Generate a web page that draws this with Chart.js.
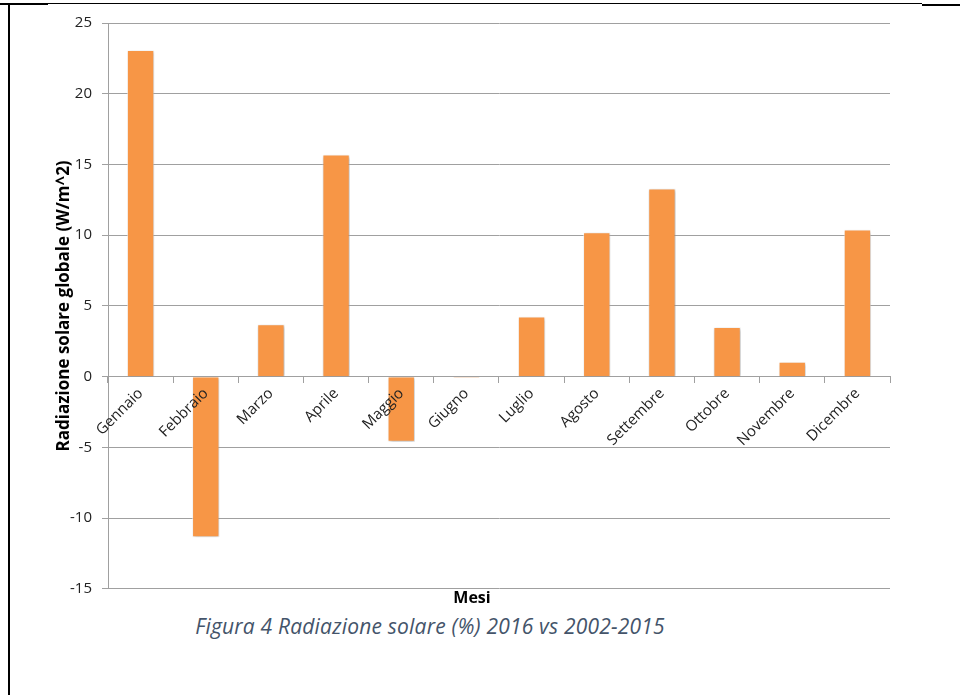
<!DOCTYPE html>
<html>
<head>
<meta charset="utf-8">
<script src="https://cdn.jsdelivr.net/npm/chart.js@4"></script>
<style>
  html, body { margin: 0; padding: 0; background: #fff; }
  #page { position: relative; width: 960px; height: 695px; overflow: hidden; }
  #chartbox { position: absolute; left: 0; top: 0; width: 960px; height: 610px; }
  .rule { position: absolute; background: #000; }
  #caption {
    position: absolute; left: 0; width: 860px; top: 612px; text-align: center;
    font-family: "Open Sans", sans-serif; font-style: italic; font-size: 21px;
    letter-spacing: 0.2px; color: #44546a;
  }
</style>
</head>
<body>
<div id="page">
  <div class="rule" style="left:0;top:3px;width:48px;height:2px"></div>
  <div class="rule" style="left:8px;top:3px;width:914px;height:1px"></div>
  <div class="rule" style="left:922px;top:4px;width:38px;height:2px"></div>
  <div class="rule" style="left:8px;top:3px;width:2px;height:692px"></div>
  <div id="chartbox"><canvas id="myChart"></canvas></div>
  <div id="caption">Figura 4 Radiazione solare (%) 2016 vs 2002-2015</div>
</div>
<script>
// months and 2016 anomaly vs 2002-2015
const mesi = ['Gennaio', 'Febbraio', 'Marzo', 'Aprile', 'Maggio', 'Giugno',
              'Luglio', 'Agosto', 'Settembre', 'Ottobre', 'Novembre', 'Dicembre'];
const radiazione = [23.1, -11.35, 3.7, 15.7, -4.6, -0.1, 4.25, 10.2, 13.3, 3.5, 1.05, 10.4];
const yTicks = [-15, -10, -5, 0, 5, 10, 15, 20, 25];

Chart.defaults.font.family = "'Open Sans', sans-serif";
Chart.defaults.color = '#222';

// soft drop shadow under the bars
const barShadow = {
    id: 'barShadow',
    beforeDatasetsDraw(chart) {
        const c = chart.ctx;
        c.save();
        c.shadowColor = 'rgba(0,0,0,0.3)';
        c.shadowBlur = 3;
        c.shadowOffsetX = 1;
        c.shadowOffsetY = 1;
    },
    afterDatasetsDraw(chart) {
        chart.ctx.restore();
    }
};

const ctx = document.getElementById('myChart');
new Chart(ctx, {
    type: 'bar',
    data: {
        labels: mesi,
        datasets: [{
            data: radiazione,
            backgroundColor: '#f79646',
            borderColor: 'rgba(255,255,255,0.6)',
            borderWidth: 1,
            barPercentage: 0.42,
            categoryPercentage: 1.0
        }]
    },
    options: {
        responsive: true,
        maintainAspectRatio: false,
        animation: false,
        layout: { padding: { left: 54, right: 70, top: 23, bottom: 2 } },
        plugins: {
            legend: { display: false },
            tooltip: { enabled: false },
            title: {
                display: true,
                position: 'bottom',
                text: 'Mesi',
                color: '#000',
                font: { size: 16, weight: 'bold' },
                padding: { top: 0, bottom: 0 }
            }
        },
        scales: {
            x: {
                position: { y: 0 },
                grid: {
                    offset: true,
                    drawOnChartArea: false,
                    drawTicks: true,
                    tickLength: 6,
                    color: '#a0a0a0'
                },
                border: { color: '#a0a0a0', width: 1 },
                ticks: {
                    z: 1,   // month names sit on top of the bars
                    maxRotation: 45,
                    minRotation: 45,
                    padding: 2,
                    font: { size: 15 },
                    color: '#222'
                }
            },
            y: {
                min: -15,
                max: 25,
                afterBuildTicks(scale) {
                    scale.ticks = yTicks.map(v => ({ value: v }));
                },
                afterFit(scale) {
                    scale.width = 54;
                },
                grid: {
                    color: '#a0a0a0',
                    tickLength: 6
                },
                border: { color: '#a0a0a0', width: 1 },
                ticks: {
                    padding: 10,
                    font: { size: 15 },
                    color: '#222'
                },
                title: {
                    display: true,
                    text: 'Radiazione solare globale (W/m^2)',
                    color: '#000',
                    font: { size: 17, weight: 'bold' },
                    padding: 0
                }
            }
        }
    },
    plugins: [barShadow]
});
</script>
</body>
</html>
